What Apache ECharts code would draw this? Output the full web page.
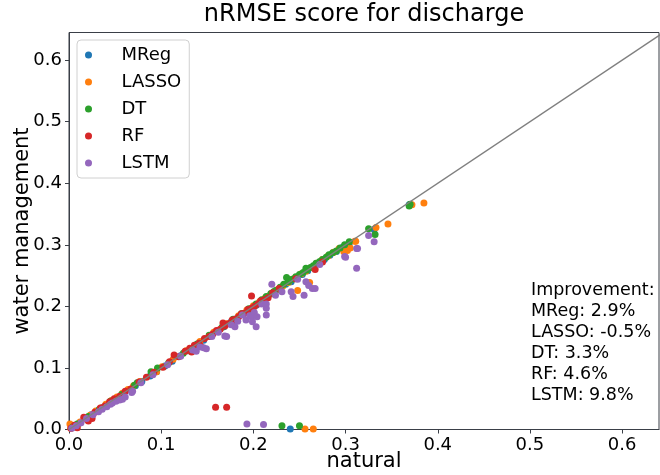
<!DOCTYPE html>
<html>
<head>
<meta charset="utf-8">
<script src="https://cdn.jsdelivr.net/npm/echarts@6/dist/echarts.min.js"></script>
<style>
  html, body { margin: 0; padding: 0; background: #fff; }
  #chart { width: 660px; height: 475px; }
</style>
</head>
<body>
<div id="chart"></div>
<script>
// Model names, in drawing order
const models = ['MReg', 'LASSO', 'DT', 'RF', 'LSTM'];
const colors = ['#1f77b4', '#ff7f0e', '#2ca02c', '#d62728', '#9467bd'];
// Improvement of each model under water management (%)
const improvements = [2.9, -0.5, 3.3, 4.6, 9.8];
// Tick labels on both axes
const tickLabels = ['0.0', '0.1', '0.2', '0.3', '0.4', '0.5', '0.6'];
// Ends of the identity line
const diagonal = [0, 0.66];

// nRMSE pairs: [natural, water management]
const mregPts = [
  [0.003,0.003],[0.006,0.005],[0.011,0.010],[0.018,0.017],[0.024,0.024],[0.031,0.030],[0.037,0.036],
  [0.042,0.041],[0.048,0.047],[0.053,0.052],[0.059,0.058],[0.066,0.065],[0.072,0.071],[0.079,0.078],
  [0.088,0.087],[0.095,0.094],[0.104,0.103],[0.112,0.111],[0.121,0.120],[0.129,0.128],[0.137,0.136],
  [0.146,0.145],[0.153,0.152],[0.161,0.160],[0.168,0.167],[0.176,0.175],[0.183,0.182],[0.189,0.188],
  [0.196,0.195],[0.203,0.202],[0.209,0.208],[0.215,0.214],[0.222,0.221],[0.228,0.227],[0.235,0.236],
  [0.241,0.240],[0.247,0.246],[0.253,0.252],[0.259,0.258],[0.265,0.264],[0.271,0.270],[0.277,0.276],
  [0.283,0.283],[0.290,0.289],[0.297,0.296],[0.304,0.302],[0.331,0.325],[0.240,0.001],[0.369,0.365]
];
const lassoPts = [
  [0.002,0.002],[0.007,0.007],[0.012,0.012],[0.017,0.018],[0.023,0.023],[0.029,0.030],[0.035,0.035],
  [0.040,0.041],[0.046,0.047],[0.052,0.053],[0.058,0.059],[0.064,0.065],[0.070,0.071],[0.077,0.078],
  [0.095,0.094],[0.101,0.102],[0.113,0.114],[0.127,0.128],[0.142,0.143],[0.157,0.158],[0.171,0.172],
  [0.184,0.185],[0.193,0.194],[0.200,0.201],[0.207,0.208],[0.213,0.214],[0.219,0.220],[0.226,0.227],
  [0.232,0.233],[0.238,0.239],[0.248,0.226],[0.244,0.245],[0.252,0.253],[0.261,0.239],[0.257,0.257],
  [0.263,0.263],[0.269,0.270],[0.275,0.276],[0.281,0.282],[0.287,0.288],[0.293,0.294],[0.300,0.297],
  [0.302,0.291],[0.305,0.295],[0.298,0.289],[0.311,0.306],[0.310,0.306],[0.333,0.328],[0.346,0.334],
  [0.372,0.365],[0.385,0.368],[0.256,0.001],[0.265,0.001],[0.001,0.009]
];
const dtPts = [
  [0.004,0.004],[0.009,0.009],[0.021,0.021],[0.033,0.033],[0.045,0.046],[0.057,0.057],[0.071,0.072],
  [0.074,0.076],[0.089,0.094],[0.096,0.100],[0.108,0.108],[0.124,0.124],[0.139,0.139],[0.152,0.153],
  [0.166,0.166],[0.178,0.179],[0.187,0.188],[0.195,0.196],[0.203,0.204],[0.209,0.211],[0.214,0.216],
  [0.219,0.221],[0.222,0.224],[0.224,0.226],[0.229,0.231],[0.236,0.247],[0.233,0.236],[0.238,0.240],
  [0.242,0.244],[0.246,0.248],[0.250,0.252],[0.254,0.255],[0.257,0.262],[0.258,0.259],[0.262,0.263],
  [0.265,0.266],[0.268,0.270],[0.272,0.273],[0.275,0.276],[0.279,0.280],[0.282,0.284],[0.286,0.287],
  [0.290,0.290],[0.294,0.295],[0.299,0.300],[0.304,0.305],[0.325,0.326],[0.332,0.317],[0.369,0.363],
  [0.370,0.366],[0.231,0.006],[0.250,0.006]
];
const rfPts = [
  [0.002,0.002],[0.009,0.003],[0.006,0.007],[0.016,0.020],[0.021,0.014],[0.025,0.018],[0.028,0.028],
  [0.034,0.035],[0.039,0.038],[0.044,0.045],[0.049,0.050],[0.055,0.054],[0.061,0.062],[0.067,0.066],
  [0.076,0.077],[0.084,0.085],[0.092,0.093],[0.102,0.101],[0.109,0.110],[0.114,0.121],[0.119,0.118],
  [0.126,0.127],[0.131,0.132],[0.133,0.126],[0.136,0.137],[0.141,0.140],[0.143,0.135],[0.147,0.148],
  [0.152,0.151],[0.156,0.155],[0.160,0.161],[0.164,0.163],[0.167,0.173],[0.169,0.168],[0.173,0.172],
  [0.177,0.178],[0.178,0.170],[0.180,0.179],[0.184,0.183],[0.187,0.188],[0.190,0.189],[0.194,0.195],
  [0.198,0.217],[0.198,0.197],[0.201,0.200],[0.205,0.204],[0.208,0.209],[0.212,0.211],[0.216,0.214],
  [0.221,0.222],[0.228,0.229],[0.246,0.245],[0.267,0.260],[0.275,0.272],[0.159,0.036],[0.171,0.036]
];
const lstmPts = [
  [0.003,0.002],[0.008,0.006],[0.013,0.011],[0.019,0.018],[0.026,0.024],[0.032,0.029],[0.036,0.033],
  [0.041,0.037],[0.045,0.041],[0.047,0.043],[0.051,0.046],[0.055,0.048],[0.058,0.049],[0.061,0.053],
  [0.068,0.060],[0.069,0.062],[0.078,0.076],[0.091,0.089],[0.107,0.105],[0.121,0.119],[0.134,0.129],
  [0.138,0.127],[0.142,0.134],[0.146,0.133],[0.149,0.131],[0.155,0.151],[0.162,0.158],[0.169,0.152],
  [0.171,0.151],[0.180,0.167],[0.176,0.170],[0.183,0.176],[0.188,0.186],[0.192,0.178],[0.196,0.185],
  [0.198,0.183],[0.199,0.175],[0.201,0.190],[0.203,0.167],[0.204,0.183],[0.209,0.204],[0.214,0.186],
  [0.214,0.197],[0.214,0.204],[0.220,0.236],[0.224,0.218],[0.231,0.224],[0.243,0.216],[0.241,0.224],
  [0.248,0.244],[0.255,0.218],[0.257,0.240],[0.260,0.234],[0.264,0.229],[0.267,0.229],[0.272,0.268],
  [0.299,0.281],[0.300,0.280],[0.312,0.262],[0.312,0.294],[0.313,0.294],[0.325,0.315],[0.331,0.305],
  [0.193,0.009],[0.211,0.008]
];
const seriesPts = [mregPts, lassoPts, dtPts, rfPts, lstmPts];

const FONT = '"DejaVu Sans", "Liberation Sans", sans-serif';

const chart = echarts.init(document.getElementById('chart'), null, { renderer: 'canvas' });

const scatterSeries = models.map((name, i) => ({
  name,
  type: 'scatter',
  data: seriesPts[i],
  symbol: 'circle',
  symbolSize: 7,
  itemStyle: { color: colors[i], opacity: 1 },
  emphasis: { disabled: true },
  z: 2 + i
}));

const noteText = ['Improvement:']
  .concat(models.map((m, i) => m + ': ' + improvements[i].toFixed(1) + '%'))
  .join('\n');

const fmtTick = v => {
  const s = v.toFixed(1);
  return tickLabels.includes(s) && Math.abs(v - parseFloat(s)) < 1e-9 ? s : '';
};

const axisCommon = {
  type: 'value',
  min: 0,
  interval: 0.1,
  splitLine: { show: false },
  axisLine: { show: true, lineStyle: { color: '#3a3f47', width: 1 } },
  axisTick: { show: true, length: 4, lineStyle: { color: '#3a3f47', width: 1 } },
  axisLabel: {
    color: '#000', fontSize: 18, fontFamily: FONT, margin: 7,
    showMaxLabel: false, formatter: fmtTick
  },
  nameLocation: 'middle',
  nameMoveOverlap: false,
  nameTextStyle: { color: '#000', fontSize: 21, fontFamily: FONT }
};

chart.setOption({
  animation: false,
  backgroundColor: '#fff',
  title: {
    text: 'nRMSE score for discharge',
    left: 364, top: 3, textAlign: 'center', padding: 0,
    textStyle: { color: '#000', fontSize: 24, fontWeight: 'normal', fontFamily: FONT }
  },
  grid: {
    left: 69, right: 1, top: 32.5, bottom: 45.5,
    show: true, borderColor: '#3a3f47', borderWidth: 1,
    containLabel: false, outerBoundsMode: 'none'
  },
  legend: {
    data: models,
    orient: 'vertical',
    left: 77, top: 40,
    padding: [5, 8, 5, 8],
    itemGap: 7,
    itemWidth: 34, itemHeight: 7,
    icon: 'circle',
    selectedMode: false,
    backgroundColor: 'rgba(255,255,255,0.85)',
    borderColor: '#d0d0d0', borderWidth: 1, borderRadius: 4,
    textStyle: { color: '#000', fontSize: 18, fontFamily: FONT, lineHeight: 20, padding: [0, 0, 0, 11] }
  },
  xAxis: Object.assign({}, axisCommon, { max: 0.64, name: 'natural', nameGap: 22 }),
  yAxis: Object.assign({}, axisCommon, { max: 0.645, name: 'water management', nameGap: 36 }),
  series: scatterSeries.concat([{
    type: 'line',
    data: [[diagonal[0], diagonal[0]], [diagonal[1], diagonal[1]]],
    symbol: 'none',
    lineStyle: { color: '#808080', width: 1.5 },
    silent: true,
    clip: true,
    z: 10
  }]),
  graphic: [{
    type: 'text',
    left: 531, top: 280,
    style: { text: noteText, font: '17.5px ' + FONT, lineHeight: 21, fill: '#000' }
  }]
});
</script>
</body>
</html>
